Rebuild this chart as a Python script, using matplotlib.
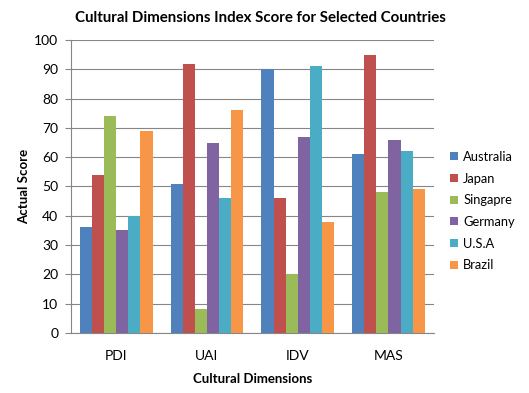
import numpy as np
import matplotlib
matplotlib.use("Agg")
from matplotlib import pyplot as plt

plt.rcParams['font.family'] = ['Lato', 'DejaVu Sans']

categories = ["PDI", "UAI", "IDV", "MAS"]
countries = ["Australia", "Japan", "Singapre", "Germany", "U.S.A", "Brazil"]
australia = [36, 51, 90, 61]
japan = [54, 92, 46, 95]
singapore = [74, 8, 20, 48]
germany = [35, 65, 67, 66]
usa = [40, 46, 91, 62]
brazil = [69, 76, 38, 49]
series = [australia, japan, singapore, germany, usa, brazil]
colors = ["#4F81BD", "#C0504D", "#9BBB59", "#8064A2", "#4BACC6", "#F79646"]

fig = plt.figure(figsize=(5.29, 3.93), dpi=100)
ax = fig.add_axes([0.134, 0.153, 0.686, 0.745])

x = np.arange(len(categories))
n = len(series)
w = 0.8 / n
for i, vals in enumerate(series):
    ax.bar(x - 0.4 + w * (i + 0.5), vals, width=w, color=colors[i],
           label=countries[i], zorder=3)

ax.set_xlim(-0.5, len(categories) - 0.5)
ax.set_ylim(0, 100)
ax.set_yticks(range(0, 101, 10))
ax.set_xticks(x)
ax.set_xticklabels(categories, fontsize=10)
ax.tick_params(axis='x', length=0, pad=12)
ax.tick_params(axis='y', labelsize=10, length=4, color="#868686", pad=5)
ax.grid(axis='y', color="#868686", linewidth=0.8, zorder=0)
for s in ["top", "right"]:
    ax.spines[s].set_visible(False)
for s in ["left", "bottom"]:
    ax.spines[s].set_color("#868686")

ax.set_ylabel("Actual Score", fontsize=9.5, fontweight='bold', labelpad=3)
ax.set_xlabel("Cultural Dimensions", fontsize=9.5, fontweight='bold', labelpad=8)
fig.text(0.493, 0.955, "Cultural Dimensions Index Score for Selected Countries",
         ha='center', va='center', fontsize=10.8, fontweight='bold')

fig.legend(loc='center left', bbox_to_anchor=(0.851, 0.463), frameon=False,
           fontsize=9.3, handlelength=0.6, handleheight=0.6, handletextpad=0.4,
           labelspacing=0.75, borderaxespad=0, borderpad=0)

fig.savefig("out.png", dpi=100)
